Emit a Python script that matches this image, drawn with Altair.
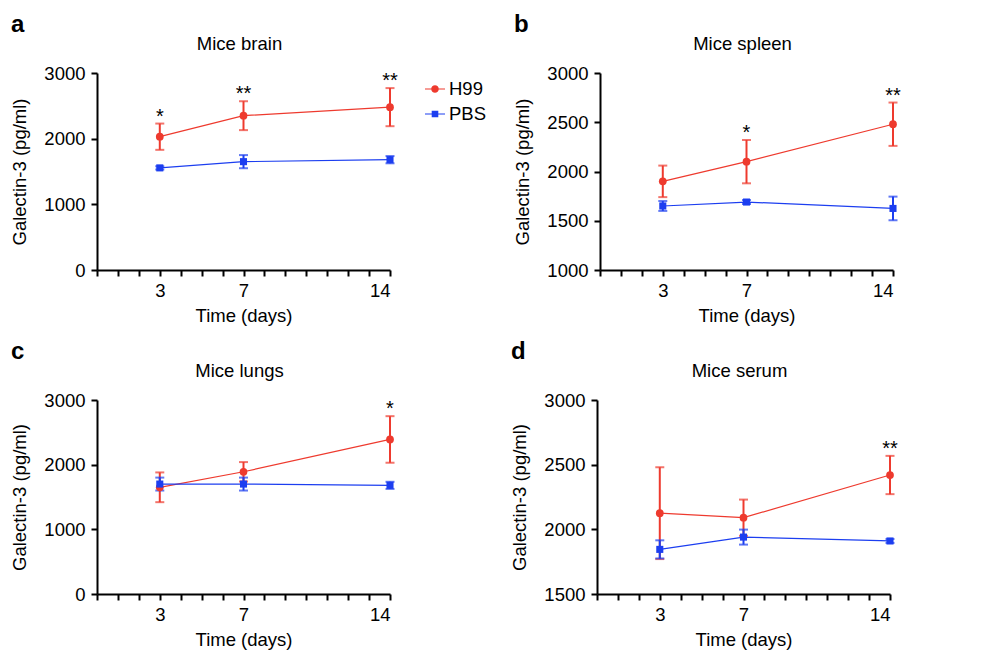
import altair as alt
import pandas as pd

days = [3, 7, 14]
series_names = ["H99", "PBS"]
colors = ["#ee3a2e", "#1c3ef0"]

brain_h99 = [2030, 2350, 2480]
brain_h99_err = [200, 220, 290]
brain_pbs = [1555, 1650, 1680]
brain_pbs_err = [25, 100, 55]
brain_sig = ["*", "**", "**"]

spleen_h99 = [1900, 2100, 2480]
spleen_h99_err = [160, 220, 220]
spleen_pbs = [1650, 1690, 1625]
spleen_pbs_err = [50, 20, 120]
spleen_sig = ["", "*", "**"]

lungs_h99 = [1650, 1890, 2390]
lungs_h99_err = [230, 150, 360]
lungs_pbs = [1700, 1700, 1680]
lungs_pbs_err = [100, 100, 55]
lungs_sig = ["", "", "*"]

serum_h99 = [2125, 2090, 2420]
serum_h99_err = [355, 140, 148]
serum_pbs = [1845, 1940, 1910]
serum_pbs_err = [70, 58, 15]
serum_sig = ["", "", "**"]

FONT = "Liberation Sans"
FS = 18.5
W = 293

PATH_H99 = ("M-1,-0.05H-0.36V0.05H-1Z M0.36,-0.05H1V0.05H0.36Z "
            "M0.38,0A0.38,0.38,0,1,1,-0.38,0A0.38,0.38,0,1,1,0.38,0Z")
PATH_PBS = ("M-1,-0.05H-0.3V0.05H-1Z M0.3,-0.05H1V0.05H0.3Z "
            "M-0.33,-0.33H0.33V0.33H-0.33Z")


def make_df(h99, h99e, pbs, pbse):
    rows = []
    for name, vals, errs in (("H99", h99, h99e), ("PBS", pbs, pbse)):
        for d, v, e in zip(days, vals, errs):
            rows.append({"day": d, "series": name, "mean": v,
                         "lo": v - e, "hi": v + e})
    return pd.DataFrame(rows)


def panel(letter, title, h99, h99e, pbs, pbse, sig, ydomain, yticks, height):
    df = make_df(h99, h99e, pbs, pbse)
    xscale = alt.Scale(domain=[0, 14], nice=False, zero=False)
    yscale = alt.Scale(domain=ydomain, nice=False, zero=False)
    xaxis = alt.Axis(values=list(range(0, 15)),
                     labelExpr="indexof([3,7,14], datum.value) >= 0 ? datum.label : ''",
                     title="Time (days)", titleFontSize=FS, titleFontWeight="normal",
                     titlePadding=7, labelPadding=5)
    yaxis = alt.Axis(values=yticks, format="d", title="Galectin-3 (pg/ml)",
                     titleFontSize=FS, titleFontWeight="normal", titlePadding=14,
                     labelPadding=6)
    X = alt.X("day:Q", scale=xscale, axis=xaxis, title="Time (days)")

    def Y(field):
        return alt.Y(field, scale=yscale, axis=yaxis, title="Galectin-3 (pg/ml)")

    layers = []
    for name, col in zip(series_names, colors):
        sub = alt.Chart(df).transform_filter(alt.datum.series == name)
        layers.append(sub.mark_line(strokeWidth=1.2, color=col).encode(
            x=X, y=Y("mean:Q")))
    for name, col in zip(series_names, colors):
        sub = alt.Chart(df).transform_filter(alt.datum.series == name)
        layers.append(sub.mark_errorbar(ticks={"size": 9, "thickness": 2},
                                        thickness=2, color=col).encode(
            x=X, y=Y("lo:Q"), y2="hi:Q"))
    h = alt.Chart(df).transform_filter(alt.datum.series == "H99")
    layers.append(h.mark_circle(size=60, opacity=1, color=colors[0]).encode(
        x=X, y=Y("mean:Q")))
    p = alt.Chart(df).transform_filter(alt.datum.series == "PBS")
    layers.append(p.mark_square(size=50, opacity=1, color=colors[1]).encode(
        x=X, y=Y("mean:Q")))

    sdf = pd.DataFrame({"day": days, "hi": [v + e for v, e in zip(h99, h99e)],
                        "sig": sig})
    layers.append(alt.Chart(sdf).mark_text(font=FONT, fontSize=20, baseline="bottom",
                                           dy=3, color="black").encode(
        x=X, y=Y("hi:Q"), text="sig:N"))

    leg_props = dict(orient="none", legendX=328, legendY=6, title=None,
                     labelFontSize=FS, labelFont=FONT, labelColor="black",
                     symbolSize=400, symbolStrokeWidth=0, symbolOpacity=1,
                     rowPadding=5, labelOffset=4, padding=0)
    cscale = alt.Scale(domain=series_names, range=colors)
    layers.append(alt.Chart(df).transform_filter(alt.datum.day < 0).mark_point(
        filled=True, opacity=1).encode(
        x=X, y=Y("mean:Q"),
        color=alt.Color("series:N", scale=cscale, legend=alt.Legend(**leg_props)),
        shape=alt.Shape("series:N",
                        scale=alt.Scale(domain=series_names, range=[PATH_H99, PATH_PBS]),
                        legend=alt.Legend(**leg_props))))

    tdf = pd.DataFrame({"t": [letter], "title": [title]})
    layers.append(alt.Chart(tdf).mark_text(font=FONT, fontSize=24, fontWeight="bold",
                                           align="left", baseline="alphabetic",
                                           color="black").encode(
        text="t:N", x=alt.value(-86), y=alt.value(-41)))
    layers.append(alt.Chart(tdf).mark_text(font=FONT, fontSize=FS, align="center",
                                           baseline="alphabetic", color="black").encode(
        text="title:N", x=alt.value(W / 2 - 4), y=alt.value(-23)))

    return alt.layer(*layers).properties(width=W, height=height)


pa = panel("a", "Mice brain", brain_h99, brain_h99_err, brain_pbs, brain_pbs_err,
           brain_sig, [0, 3000], [0, 1000, 2000, 3000], 197)
pb = panel("b", "Mice spleen", spleen_h99, spleen_h99_err, spleen_pbs, spleen_pbs_err,
           spleen_sig, [1000, 3000], [1000, 1500, 2000, 2500, 3000], 197)
pc = panel("c", "Mice lungs", lungs_h99, lungs_h99_err, lungs_pbs, lungs_pbs_err,
           lungs_sig, [0, 3000], [0, 1000, 2000, 3000], 194)
pd_ = panel("d", "Mice serum", serum_h99, serum_h99_err, serum_pbs, serum_pbs_err,
            serum_sig, [1500, 3000], [1500, 2000, 2500, 3000], 194)

chart = alt.vconcat(
    alt.hconcat(pa, pb, spacing=115),
    alt.hconcat(pc, pd_, spacing=115),
    spacing=15,
).properties(padding={"left": 2, "top": 5, "right": 2, "bottom": 2},
             background="white").configure_view(stroke=None).configure_axis(
    grid=False, domainColor="black", domainWidth=2, tickColor="black", tickWidth=2,
    tickSize=6, labelColor="black", labelFontSize=FS, labelFont=FONT,
    titleFont=FONT, titleColor="black"
).configure_text(font=FONT)

chart.save("out.html", embed_options={"renderer": "svg", "actions": False})
